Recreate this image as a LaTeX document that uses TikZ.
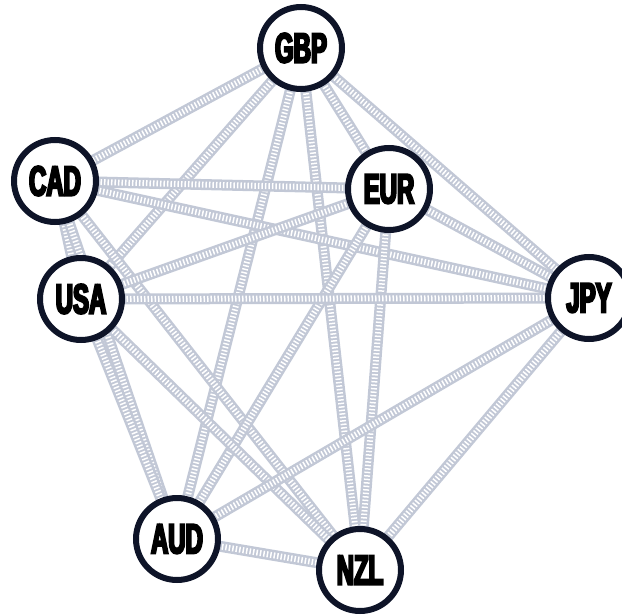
\documentclass[tikz,border=0pt]{standalone}
\usepackage{fontspec}
\newfontfamily\labfont{Liberation Sans Bold}[FakeStretch=0.57,FakeBold=5]
\usetikzlibrary{backgrounds}
\definecolor{bandcol}{HTML}{C2C8D6}
\definecolor{ringcol}{HTML}{0E1428}
\tikzset{
  cur/.style={circle, draw=ringcol, line width=6pt, fill=white, inner sep=0pt,
    minimum size=82pt, font=\labfont\fontsize{42}{42}\selectfont, text=black},
  band/.style={draw=bandcol, line width=11pt,
    postaction={draw=white, line width=6pt, dash pattern=on 1.5pt off 2pt}}
}
\begin{document}
\begin{tikzpicture}[x=1pt,y=-1pt]
\useasboundingbox (0,0) rectangle (622,616);
\node[cur] (GBP) at (301,48) {GBP};
\node[cur] (CAD) at (55,181) {CAD};
\node[cur] (EUR) at (389,189) {EUR};
\node[cur] (USA) at (81,299) {USA};
\node[cur] (JPY) at (589,298) {JPY};
\node[cur] (AUD) at (177,539) {AUD};
\node[cur] (NZL) at (360,570) {NZL};
\begin{pgfonlayer}{background}
\foreach \a/\b in {GBP/CAD,GBP/EUR,GBP/USA,GBP/JPY,GBP/AUD,GBP/NZL,
  CAD/EUR,CAD/USA,CAD/JPY,CAD/AUD,CAD/NZL,
  EUR/USA,EUR/JPY,EUR/AUD,EUR/NZL,
  USA/JPY,USA/AUD,USA/NZL,
  JPY/AUD,JPY/NZL,
  AUD/NZL}
  \path[band] (\a.center) -- (\b.center);
\end{pgfonlayer}
\end{tikzpicture}
\end{document}
